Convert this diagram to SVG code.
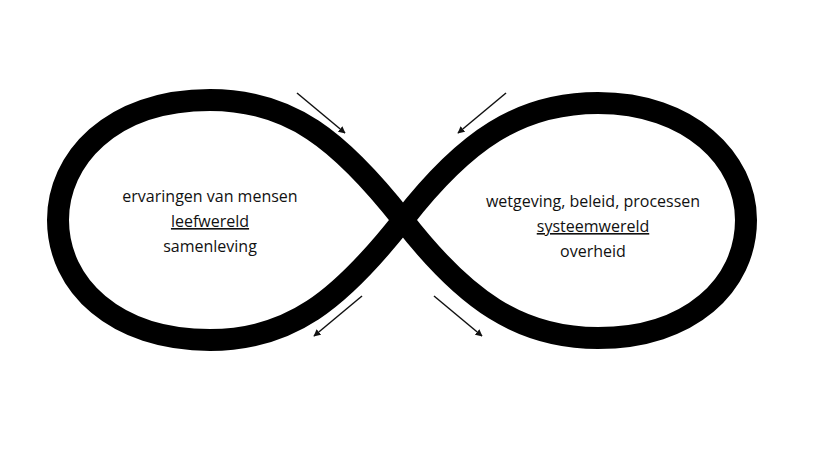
<svg xmlns="http://www.w3.org/2000/svg" width="830" height="467" viewBox="0 0 830 467">
<defs>
<style>
.t{font-family:"Open Sans","Liberation Sans",sans-serif;font-size:16px;fill:#111;text-anchor:middle}
.u{text-decoration:underline}
.a{stroke:#111;stroke-width:1.5;fill:none;marker-end:url(#ah)}
</style>
<marker id="ah" viewBox="0 0 10 10" refX="9" refY="5" markerWidth="7" markerHeight="7" orient="auto" markerUnits="userSpaceOnUse"><path d="M0,0 L10,5 L0,10 Z" fill="#111"/></marker>
</defs>
<rect width="830" height="467" fill="#fff"/>
<g id="loop"><path d="M403,220 C340,140 290,100 210,100 C110,100 58,160 58,220 C58,285 115,340 210,340 C290,340 340,300 403,220 C465,140 520,103 598,103 C690,103 746,160 746,220 C746,285 690,338 598,338 C520,338 465,300 403,220 Z" fill="none" stroke="#000" stroke-width="22"/></g>
<g id="connectors">
<line class="a" x1="297" y1="93" x2="345" y2="133"/>
<line class="a" x1="506" y1="93" x2="458" y2="133"/>
<line class="a" x1="362" y1="296" x2="314" y2="336"/>
<line class="a" x1="434" y1="296" x2="482" y2="336"/>
</g>
<g id="left">
<text class="t" x="210" y="202">ervaringen van mensen</text>
<text class="t u" x="210" y="227">leefwereld</text>
<text class="t" x="210" y="252">samenleving</text>
</g>
<g id="right">
<text class="t" x="593" y="207">wetgeving, beleid, processen</text>
<text class="t u" x="593" y="232">systeemwereld</text>
<text class="t" x="593" y="257">overheid</text>
</g>
</svg>
